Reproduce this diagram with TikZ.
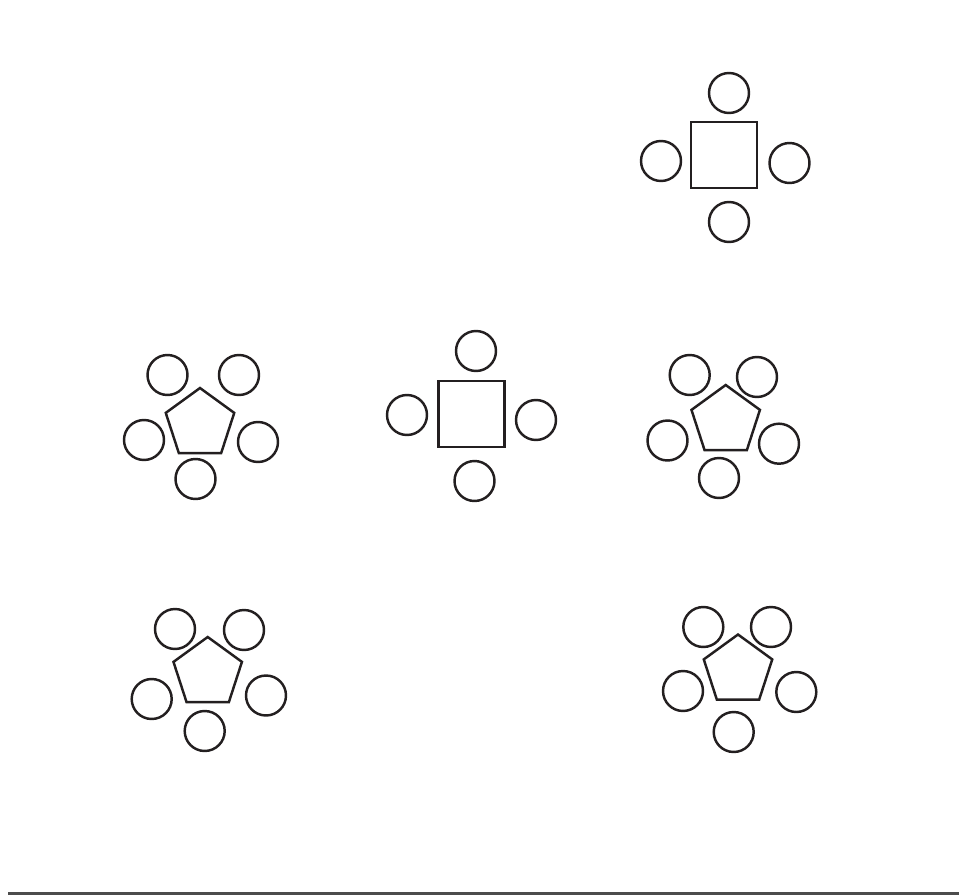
\documentclass[tikz,border=0pt]{standalone}
\usetikzlibrary{shapes.geometric}
\definecolor{ink}{RGB}{35,31,32}

\begin{document}
\begin{tikzpicture}[x=0.02cm, y=-0.02cm,
    chair/.style={draw=ink, line width=1.4pt, circle, minimum size=0.8cm, inner sep=0pt},
    sqtable/.style={draw=ink, line width=1.4pt, rectangle, minimum size=1.32cm, inner sep=0pt},
    pentable/.style={draw=ink, line width=1.4pt, regular polygon, regular polygon sides=5, minimum size=1.44cm, inner sep=0pt}]
    \useasboundingbox (0,0) rectangle (959,895);
    \fill[black!70] (8,891.5) rectangle (959,895);
    % square tables
    \node[sqtable] (s1) at (724,155) {};
    \foreach \n/\x/\y in {n/729/93, w/661/161, e/789.5/163, s/729/222}
        \node[chair] (s1-\n) at (\x,\y) {};
    \node[sqtable] (s2) at (471.7,414) {};
    \foreach \n/\x/\y in {n/476/351, w/407/415, e/536/420, s/474.5/481}
        \node[chair] (s2-\n) at (\x,\y) {};
    % pentagon tables
    \node[pentable] (p1) at (200,424) {};
    \foreach \n/\x/\y in {nw/167.5/375, ne/239/375, w/144/440, e/258/442, s/195.5/479}
        \node[chair] (p1-\n) at (\x,\y) {};
    \node[pentable] (p2) at (725.7,421) {};
    \foreach \n/\x/\y in {nw/689.7/375, ne/757/377, w/667.5/440.5, e/779/443.7, s/719/478}
        \node[chair] (p2-\n) at (\x,\y) {};
    \node[pentable] (p3) at (207.7,673) {};
    \foreach \n/\x/\y in {nw/175/629, ne/244/630, w/151.7/699, e/266/695.5, s/204.7/731}
        \node[chair] (p3-\n) at (\x,\y) {};
    \node[pentable] (p4) at (738,670.5) {};
    \foreach \n/\x/\y in {nw/703.3/627, ne/771/627, w/683/691, e/796.3/692, s/733.7/732}
        \node[chair] (p4-\n) at (\x,\y) {};
\end{tikzpicture}
\end{document}
